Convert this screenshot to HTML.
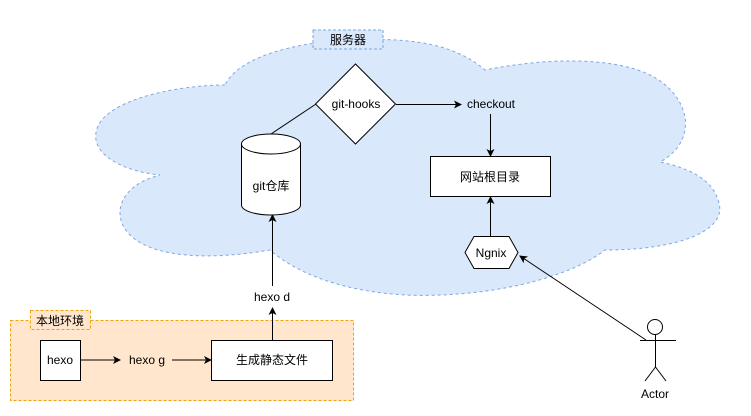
<!DOCTYPE html>
<html><head><meta charset="utf-8"><style>
html,body{margin:0;padding:0;background:#fff;}
svg text{font-family:"Liberation Sans","Noto Sans CJK SC",sans-serif;font-size:12px;fill:#000;}
</style></head><body>
<svg width="751" height="411" viewBox="0 0 751 411" xmlns="http://www.w3.org/2000/svg">
<defs><marker id="a" markerWidth="10" markerHeight="10" refX="8" refY="5" orient="auto" markerUnits="userSpaceOnUse"><path d="M1,1 L9,5 L1,9 L3,5 Z" fill="#000"/></marker></defs>
<path d="M225,85 C180,85 90,100 96,140 C100,160 130,172 160,175 C120,185 110,215 130,235 C150,255 200,262 270,250 C310,285 380,298 440,295 C520,292 580,270 605,250 C680,250 730,230 718,200 C712,180 690,168 660,162 C700,140 690,95 650,75 C620,60 560,55 485,70 C450,40 400,38 350,40 C300,42 240,55 225,85 Z" fill="#dae8fc" stroke="#7ea6e0" stroke-dasharray="3 3"/>
<rect x="313" y="30" width="70" height="19" fill="#dae8fc" stroke="#7ea6e0" stroke-dasharray="3 2"/>
<text x="348" y="44" text-anchor="middle">服务器</text>
<rect x="10.5" y="320.5" width="343" height="80" fill="#ffe6cc" stroke="#f0a30a" stroke-dasharray="3 2"/>
<rect x="30.5" y="310.5" width="60" height="19" fill="#ffe6cc" stroke="#f0a30a" stroke-dasharray="3 2"/>
<text x="60" y="325" text-anchor="middle">本地环境</text>
<rect x="40.5" y="340.5" width="40" height="40" fill="#fff" stroke="#000"/>
<text x="60" y="364" text-anchor="middle">hexo</text>
<line x1="81" y1="360" x2="120" y2="360" stroke="#000" marker-end="url(#a)"/>
<text x="147" y="364" text-anchor="middle">hexo g</text>
<line x1="172" y1="360" x2="211" y2="360" stroke="#000" marker-end="url(#a)"/>
<rect x="211.5" y="340.5" width="121" height="40" fill="#fff" stroke="#000"/>
<text x="272" y="364" text-anchor="middle">生成静态文件</text>
<line x1="272.5" y1="340" x2="272.5" y2="308" stroke="#000" marker-end="url(#a)"/>
<text x="272" y="301" text-anchor="middle">hexo d</text>
<line x1="272.5" y1="286" x2="272.5" y2="215" stroke="#000" marker-end="url(#a)"/>
<path d="M241.5 144 L241.5 205 A29.5 10 0 0 0 300.5 205 L300.5 144 A29.5 10 0 0 0 241.5 144 A29.5 10 0 0 0 300.5 144" fill="#fff" stroke="#000"/>
<text x="271" y="190" text-anchor="middle">git仓库</text>
<line x1="271" y1="134" x2="316" y2="104" stroke="#000"/>
<path d="M355.5 64 L395.5 104 L355.5 144 L315.5 104 Z" fill="#fff" stroke="#000"/>
<text x="356" y="108" text-anchor="middle">git-hooks</text>
<line x1="396" y1="104.5" x2="461" y2="104.5" stroke="#000" marker-end="url(#a)"/>
<text x="491" y="108" text-anchor="middle">checkout</text>
<line x1="490.5" y1="114" x2="490.5" y2="156" stroke="#000" marker-end="url(#a)"/>
<rect x="430.5" y="156.5" width="120" height="40" fill="#fff" stroke="#000"/>
<text x="490" y="181" text-anchor="middle">网站根目录</text>
<line x1="490.5" y1="236" x2="490.5" y2="197" stroke="#000" marker-end="url(#a)"/>
<path d="M474 236.5 L509 236.5 L518 252.5 L509 268.5 L474 268.5 L465 252.5 Z" fill="#fff" stroke="#000"/>
<text x="491" y="257" text-anchor="middle">Ngnix</text>
<line x1="646" y1="340" x2="520" y2="256" stroke="#000" marker-end="url(#a)"/>
<circle cx="655" cy="327" r="7.5" fill="#fff" stroke="#000"/>
<line x1="655.5" y1="335" x2="655.5" y2="367" stroke="#000"/>
<line x1="640" y1="340.5" x2="676" y2="340.5" stroke="#000"/>
<line x1="655.5" y1="367" x2="645" y2="381" stroke="#000"/>
<line x1="655.5" y1="367" x2="666" y2="381" stroke="#000"/>
<text x="655" y="398" text-anchor="middle">Actor</text>
</svg>
</body></html>
